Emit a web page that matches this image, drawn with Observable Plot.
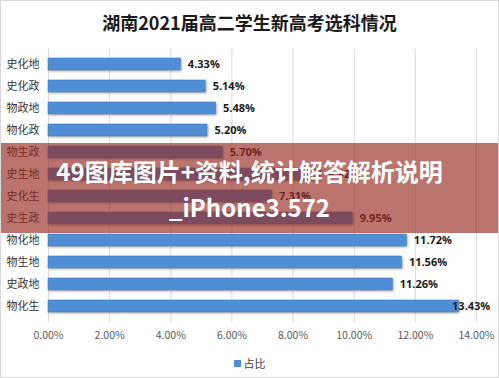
<!DOCTYPE html>
<html>
<head>
<meta charset="utf-8">
<script src="https://cdn.jsdelivr.net/npm/d3@7"></script>
<script src="https://cdn.jsdelivr.net/npm/@observablehq/plot@0.6"></script>
<style>
  html, body { margin: 0; padding: 0; background: #fff; }
  #wrap { position: relative; width: 499px; height: 378px; overflow: hidden; background: #fff;
          font-family: "Noto Sans CJK SC", "Noto Sans", sans-serif; }
  #frame { position: absolute; left: 0; top: 0; width: 497px; height: 376px; border: 1px solid #d9d9d9; pointer-events: none; }
  #title { position: absolute; left: 0; top: 0; width: 499px; height: 40px; line-height: 44px; text-align: center;
           font-size: 18px; font-weight: bold; color: #1a1a1a; }
  #chart { position: absolute; left: 0; top: 40px; }
  #legend { position: absolute; left: 0; top: 350px; width: 499px; height: 26px; display: flex; justify-content: center; align-items: center;
            font-size: 11px; color: #404040; }
  #legend .sw { width: 7px; height: 7px; background: #4f8ed4; margin-right: 3px; }
  #banner { position: absolute; left: 0; top: 143px; width: 499px; height: 90px; background: rgba(150, 40, 30, 0.65);
            color: #fff; font-weight: bold; font-size: 24px; text-align: center; line-height: 36px; padding-top: 10px; box-sizing: border-box;
            font-family: "Noto Sans CJK SC", "Noto Sans", sans-serif; }
</style>
</head>
<body>
<div id="wrap">
  <div id="title"></div>
  <div id="chart"></div>
  <div id="legend"><div class="sw"></div><span id="legendText"></span></div>
  <div id="banner"><div id="b1"></div><div id="b2"></div></div>
  <div id="frame"></div>
</div>
<script>
const titleText = "湖南2021届高二学生新高考选科情况";
const categories = ["史化地", "史化政", "物政地", "物化政", "物生政", "史生地", "史化生", "史生政", "物化地", "物生地", "史政地", "物化生"];
const values = [4.33, 5.14, 5.48, 5.20, 5.70, 8.92, 7.31, 9.95, 11.72, 11.56, 11.26, 13.43];
const xTicks = [0, 2, 4, 6, 8, 10, 12, 14];
const legendLabel = "占比";
const bannerLine1 = "49图库图片+资料,统计解答解析说明";
const bannerLine2 = "_iPhone3.572";

document.getElementById("title").textContent = titleText;
document.getElementById("legendText").textContent = legendLabel;
document.getElementById("b1").textContent = bannerLine1;
document.getElementById("b2").textContent = bannerLine2;

const data = categories.map((c, i) => ({cat: c, value: values[i]}));
const maxV = d3.max(values);
const fmt = v => v.toFixed(2) + "%";

const chart = Plot.plot({
  width: 499,
  height: 310,
  marginTop: 8.6,
  marginBottom: 27.6,
  marginLeft: 48,
  marginRight: 23,
  style: {fontFamily: '"Noto Sans CJK SC", "Noto Sans", sans-serif', background: "transparent", overflow: "visible"},
  x: {domain: [0, 14]},
  y: {domain: categories, paddingInner: 0.45, paddingOuter: 0.225},
  marks: [
    Plot.gridX(xTicks, {stroke: "#d9d9d9", strokeOpacity: 1}),
    Plot.barX(data, {x: "value", y: "cat", fill: "#4f8ed4", stroke: "#3f7cc2", strokeWidth: 0.5}),
    Plot.text(data.filter(d => d.value < maxV), {x: "value", y: "cat", text: d => fmt(d.value), textAnchor: "start", dx: 7,
      fontWeight: "bold", fontSize: 11, fill: "#1a1a1a", fontFamily: '"Open Sans", "Noto Sans", sans-serif'}),
    Plot.text(data.filter(d => d.value === maxV), {x: "value", y: "cat", text: d => fmt(d.value), textAnchor: "start", dx: -7,
      fontWeight: "bold", fontSize: 11, fill: "#1a1a1a", fontFamily: '"Open Sans", "Noto Sans", sans-serif'}),
    Plot.axisX(xTicks, {tickSize: 0, tickPadding: 9, tickFormat: fmt, fontSize: 10.5, color: "#595959", label: null}),
    Plot.axisY({tickSize: 0, tickPadding: 9, fontSize: 11, color: "#333", label: null})
  ]
});
chart.querySelectorAll("g[aria-label='bar'] rect").forEach(r => r.style.filter = "drop-shadow(1px 1.5px 1px rgba(0,0,0,0.35))");
document.getElementById("chart").appendChild(chart);
</script>
</body>
</html>
